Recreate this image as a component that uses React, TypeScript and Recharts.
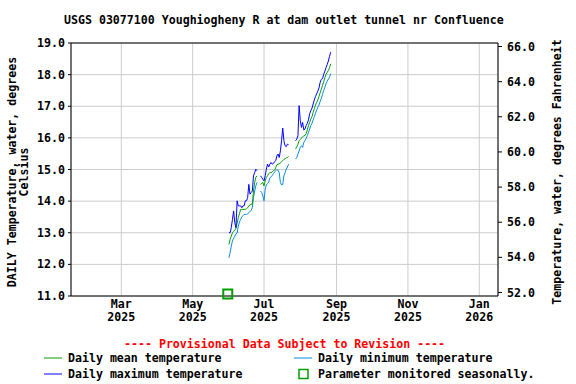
import React from "react";
import {
  LineChart,
  Line,
  XAxis,
  YAxis,
  CartesianGrid,
  ReferenceLine,
  ReferenceDot,
} from "recharts";

// day of year (Jan 1 2025 = 0), Jun 1 .. Aug 27
const days = [
  151, 152, 153, 154, 155, 156, 157, 158, 159, 160, 161, 162, 163, 164, 165, 166,
  167, 168, 169, 170, 171, 172, 173, 174, 175, 176, 177, 178, 179, 180, 181, 182,
  183, 184, 185, 186, 187, 188, 189, 190, 191, 192, 193, 194, 195, 196, 197, 198,
  199, 200, 201, 202, 203, 204, 205, 206, 207, 208, 209, 210, 211, 212, 213, 214,
  215, 216, 217, 218, 219, 220, 221, 222, 223, 224, 225, 226, 227, 228, 229, 230,
  231, 232, 233, 234, 235, 236, 237, 238,
];

const maxTemp = [
  13.0, 13.0, 13.16, 13.42, 13.69, 13.32, 13.16, 14.01, 13.85, 13.85, 13.85, 13.79,
  13.85, 13.85, 14.01, 14.01, 14.11, 14.53, 14.22, 14.27, 14.32, 14.8, 14.9, 15.01,
  14.96, null, null, 14.8, 14.75, 14.69, 14.64, 14.8, 15.01, 15.17, 15.08, 15.17,
  15.22, 15.17, 15.19, 15.25, 15.28, 15.43, 15.49, 15.38, 15.59, 15.91, 16.31, 15.91,
  15.75, 15.72, 15.8, 15.78, null, null, null, null, null, 15.91, 15.96, 16.07,
  17.02, 16.54, 16.33, 16.49, 16.25, 16.28, 16.39, 16.46, 16.57, 16.76, 16.86, 16.94,
  17.07, 17.2, 17.31, 17.39, 17.48, 17.58, 17.76, 17.85, 17.87, 18.01, 18.11, 18.22,
  18.32, 18.43, 18.58, 18.71,
];

const meanTemp = [
  12.63, 12.79, 12.89, 13.0, 13.05, 13.08, 13.14, 13.29, 13.48, 13.6, 13.74, 13.74,
  13.74, 13.74, 13.74, 13.76, 13.79, 13.85, 13.88, 13.9, 13.9, 14.32, 14.59, 14.75,
  14.8, null, null, 14.53, 14.56, 14.59, 14.48, 14.64, 14.75, 14.8, 14.87, 14.9,
  14.9, 14.93, 14.96, 14.98, 15.06, 15.15, 15.17, 15.17, 15.21, 15.25, 15.28, 15.32,
  15.34, 15.37, 15.38, 15.41, null, null, null, null, null, 15.65, 15.72, 15.8,
  15.91, 15.95, 15.99, 16.03, 16.07, 16.07, 16.14, 16.25, 16.39, 16.49, 16.6, 16.67,
  16.81, 16.92, 17.04, 17.12, 17.2, 17.31, 17.43, 17.54, 17.66, 17.77, 17.9, 18.01,
  18.07, 18.13, 18.22, 18.34,
];

const minTemp = [
  12.21, 12.37, 12.58, 12.74, 12.82, 12.89, 12.96, 12.99, 13.21, 13.34, 13.42, 13.5,
  13.54, 13.58, 13.58, 13.58, 13.6, 13.63, 13.67, 13.71, 13.79, 14.11, 14.32, 14.48,
  14.59, null, null, 14.32, 14.27, 14.16, 14.01, 14.38, 14.51, 14.56, 14.6, 14.73,
  14.77, 14.81, 14.87, 14.92, 14.96, 15.0, 14.98, 14.9, 14.59, 14.51, 14.53, 14.8,
  14.9, 15.01, 15.08, 15.17, null, null, null, null, null, 15.33, 15.38, 15.49,
  15.59, 15.7, 15.75, 15.7, 15.86, 15.91, 15.98, 16.07, 16.17, 16.28, 16.39, 16.46,
  16.57, 16.67, 16.78, 16.88, 16.97, 17.04, 17.16, 17.25, 17.37, 17.5, 17.6, 17.71,
  17.79, 17.86, 17.92, 18.03,
];

const xTicks = [59, 120, 181, 243, 304, 365];
const xTickLabels = [
  ["Mar", "2025"],
  ["May", "2025"],
  ["Jul", "2025"],
  ["Sep", "2025"],
  ["Nov", "2025"],
  ["Jan", "2026"],
];
const celsiusTicks = [11, 12, 13, 14, 15, 16, 17, 18, 19];
const fahrenheitTicks = [52, 54, 56, 58, 60, 62, 64, 66];
const seasonalMarkerDay = 150;

const FONT = "'DejaVu Sans Mono', 'Liberation Mono', monospace";
const GREEN = "#00a000";
const BLUE = "#0000ff";
const LIGHT_BLUE = "#0a8ae0";

const rows = days.map((d, i) => ({
  day: d,
  max: maxTemp[i],
  mean: meanTemp[i],
  min: minTemp[i],
}));

function MonthTick(props: any) {
  const { x, y, payload } = props;
  const idx = xTicks.indexOf(payload.value);
  const lines = xTickLabels[idx] ?? ["", ""];
  return (
    <text
      x={x}
      y={y}
      textAnchor="middle"
      fontFamily={FONT}
      fontWeight="bold"
      fontSize={11.6}
      fill="#000"
    >
      <tspan x={x} dy={10}>
        {lines[0]}
      </tspan>
      <tspan x={x} dy={13}>
        {lines[1]}
      </tspan>
    </text>
  );
}

// small hollow square, drawn a touch above the axis like the original
const square = (p: any) => (
  <rect
    x={p.cx - 4.5}
    y={p.cy - 6.5}
    width={9}
    height={9}
    fill="none"
    stroke={GREEN}
    strokeWidth={2}
  />
);

export default function App() {
  const textStyle = {
    fontFamily: FONT,
    fontWeight: "bold" as const,
    fontSize: 11.6,
    fill: "#000",
  };

  return (
    <div
      style={{
        position: "absolute",
        left: 0,
        top: 0,
        width: 576,
        height: 384,
        background: "#fff",
      }}
    >
      <LineChart
        width={576}
        height={384}
        data={rows}
        margin={{ top: 43, right: 0, bottom: 48, left: 0 }}
      >
        <CartesianGrid stroke="#cccccc" yAxisId="c" />
        <XAxis
          dataKey="day"
          type="number"
          domain={[16, 381]}
          ticks={xTicks}
          height={40}
          tick={<MonthTick />}
          axisLine={{ stroke: "#000" }}
          tickLine={false}
          tickSize={0}
          tickMargin={2}
        />
        <YAxis
          yAxisId="c"
          orientation="left"
          width={71}
          domain={[11, 19]}
          ticks={celsiusTicks}
          tickFormatter={(v: number) => v.toFixed(1)}
          tick={textStyle}
          axisLine={{ stroke: "#000" }}
          tickLine={{ stroke: "#000" }}
          tickSize={3}
          tickMargin={3}
          allowDataOverflow
        />
        <YAxis
          yAxisId="f"
          orientation="right"
          width={78}
          domain={[51.8, 66.2]}
          ticks={fahrenheitTicks}
          tickFormatter={(v: number) => v.toFixed(1)}
          tick={textStyle}
          axisLine={{ stroke: "#000" }}
          tickLine={{ stroke: "#000" }}
          tickSize={4}
          tickMargin={5}
          allowDataOverflow
        />
        <ReferenceLine yAxisId="c" y={19} stroke="#000" />
        <Line
          yAxisId="c"
          dataKey="min"
          stroke={LIGHT_BLUE}
          strokeWidth={1}
          dot={false}
          connectNulls={false}
          isAnimationActive={false}
        />
        <Line
          yAxisId="c"
          dataKey="mean"
          stroke={GREEN}
          strokeWidth={1}
          dot={false}
          connectNulls={false}
          isAnimationActive={false}
        />
        <Line
          yAxisId="c"
          dataKey="max"
          stroke={BLUE}
          strokeWidth={1}
          dot={false}
          connectNulls={false}
          isAnimationActive={false}
        />
        <ReferenceDot
          yAxisId="c"
          x={seasonalMarkerDay}
          y={11}
          shape={square}
          ifOverflow="visible"
        />
      </LineChart>

      <svg
        width={576}
        height={384}
        style={{ position: "absolute", left: 0, top: 0, pointerEvents: "none" }}
      >
        <text x={64} y={24} {...textStyle}>
          USGS 03077100 Youghiogheny R at dam outlet tunnel nr Confluence
        </text>
        <text
          transform="translate(16,172) rotate(-90)"
          textAnchor="middle"
          {...textStyle}
        >
          DAILY Temperature, water, degrees
        </text>
        <text
          transform="translate(28,172) rotate(-90)"
          textAnchor="middle"
          {...textStyle}
        >
          Celsius
        </text>
        <text
          transform="translate(561,172) rotate(-90)"
          textAnchor="middle"
          {...textStyle}
        >
          Temperature, water, degrees Fahrenheit
        </text>

        <text x={124} y={348} {...textStyle} fill="#ff0000">
          ---- Provisional Data Subject to Revision ----
        </text>
        <line x1={44} x2={62} y1={358} y2={358} stroke={GREEN} />
        <text x={68} y={362} {...textStyle}>
          Daily mean temperature
        </text>
        <line x1={44} x2={62} y1={374} y2={374} stroke={BLUE} />
        <text x={68} y={378} {...textStyle}>
          Daily maximum temperature
        </text>
        <line x1={294} x2={312} y1={358} y2={358} stroke={LIGHT_BLUE} />
        <text x={318} y={362} {...textStyle}>
          Daily minimum temperature
        </text>
        <rect
          x={299}
          y={369.5}
          width={9}
          height={9}
          fill="none"
          stroke={GREEN}
          strokeWidth={1.5}
        />
        <text x={318} y={378} {...textStyle}>
          Parameter monitored seasonally.
        </text>
      </svg>
    </div>
  );
}
